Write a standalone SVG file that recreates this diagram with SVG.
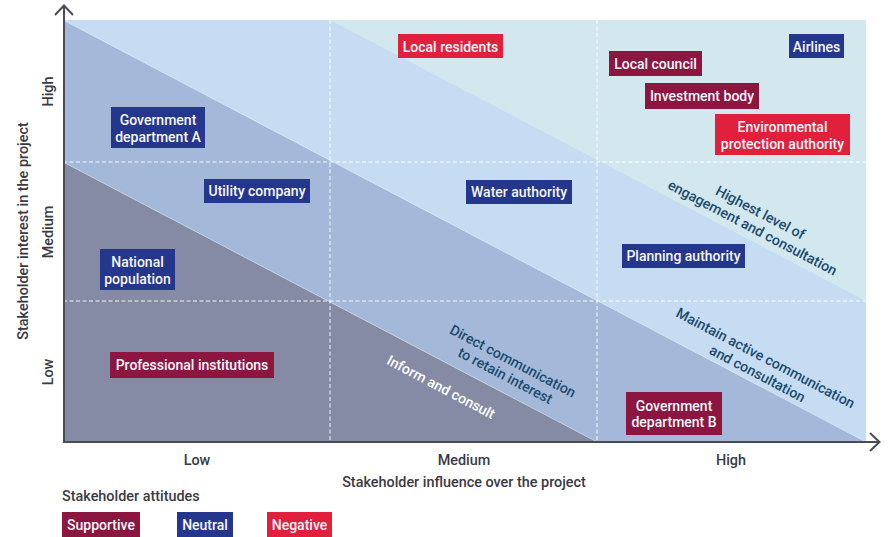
<svg xmlns="http://www.w3.org/2000/svg" width="890" height="537" viewBox="0 0 890 537">
<defs>
<style>
.bs{fill:#8c1640}
.bn{fill:#25378c}
.bg{fill:#e0203d}
.lbl{font-family:Roboto,"Liberation Sans",sans-serif;font-size:14px;font-weight:500;fill:#f7f7fb;text-anchor:middle}
.ax{font-family:Roboto,"Liberation Sans",sans-serif;font-size:14.4px;font-weight:500;fill:#3a3a44}
.axm{text-anchor:middle}
.dg{font-family:Roboto,"Liberation Sans",sans-serif;font-size:14.2px;font-weight:500;fill:#1e4a6e;text-anchor:middle}
.grid{stroke:#ffffff;stroke-width:1;stroke-dasharray:4 2.5;fill:none;opacity:0.9}
.axis{stroke:#4b4b57;stroke-width:2;fill:none}
.edge{stroke:#ffffff;stroke-width:0.8;opacity:0.45;fill:none}
</style>
</defs>
<g id="background">
<rect x="63" y="20" width="803" height="422" fill="#d2e8ee"/>
<polygon points="63,20 330,20 866,301 866,442" fill="#c5dcf2"/>
<polygon points="63,20 866,442 597,442 63,162" fill="#a4b9d9"/>
<polygon points="63,162 597,442 63,442" fill="#868ba5"/>
<line class="edge" x1="63" y1="20" x2="866" y2="442"/>
<line class="edge" x1="63" y1="162" x2="597" y2="442"/>
</g>
<g id="grid">
<line class="grid" x1="330" y1="20" x2="330" y2="442"/>
<line class="grid" x1="597" y1="20" x2="597" y2="442"/>
<line class="grid" x1="63" y1="162" x2="866" y2="162"/>
<line class="grid" x1="63" y1="301" x2="866" y2="301"/>
</g>
<g id="connectors">
<path class="axis" d="M64 442 V6 M55 15 L64 5.5 L73 15"/>
<path class="axis" d="M63 442 H879 M870 433 L879.5 442 L870 451"/>
</g>
<g id="zone-labels">
<text class="dg" transform="translate(756.5,220) rotate(27.7)"><tspan x="0" y="-3.5">Highest level of</tspan><tspan x="0" y="13.5">engagement and consultation</tspan></text>
<text class="dg" transform="translate(761.5,366) rotate(27.7)"><tspan x="0" y="-4">Maintain active communication</tspan><tspan x="0" y="13.5">and consultation</tspan></text>
<text class="dg" transform="translate(509,368.5) rotate(27.7)"><tspan x="0" y="-3.5">Direct communication</tspan><tspan x="0" y="13">to retain interest</tspan></text>
<text class="dg" transform="translate(441,387) rotate(27.7)" style="fill:#ffffff"><tspan x="0" y="5">Inform and consult</tspan></text>
</g>
<g id="local-residents"><rect class="bg" x="398" y="34" width="105" height="24"/><text class="lbl" x="450.5" y="51.5">Local residents</text></g>
<g id="local-council"><rect class="bs" x="609" y="51" width="93" height="25"/><text class="lbl" x="655.5" y="68.5">Local council</text></g>
<g id="airlines"><rect class="bn" x="789" y="34" width="55" height="24"/><text class="lbl" x="816.5" y="51.5">Airlines</text></g>
<g id="investment-body"><rect class="bs" x="645" y="83" width="114" height="26"/><text class="lbl" x="702" y="101">Investment body</text></g>
<g id="environmental-protection-authority"><rect class="bg" x="715" y="114" width="135" height="41"/><text class="lbl" x="782.5" y="131.5">Environmental<tspan x="782.5" y="148.5">protection authority</tspan></text></g>
<g id="government-department-a"><rect class="bn" x="111" y="107" width="94" height="41"/><text class="lbl" x="158" y="124.5">Government<tspan x="158" y="141.5">department A</tspan></text></g>
<g id="utility-company"><rect class="bn" x="204" y="179" width="106" height="24"/><text class="lbl" x="257" y="196">Utility company</text></g>
<g id="water-authority"><rect class="bn" x="466" y="180" width="106" height="24"/><text class="lbl" x="519" y="197">Water authority</text></g>
<g id="national-population"><rect class="bn" x="100" y="249" width="75" height="41"/><text class="lbl" x="137.5" y="266.5">National<tspan x="137.5" y="283.5">population</tspan></text></g>
<g id="planning-authority"><rect class="bn" x="622" y="244" width="123" height="24"/><text class="lbl" x="683.5" y="261">Planning authority</text></g>
<g id="professional-institutions"><rect class="bs" x="110" y="352" width="164" height="26"/><text class="lbl" x="192" y="370">Professional institutions</text></g>
<g id="government-department-b"><rect class="bs" x="626" y="392" width="96" height="43"/><text class="lbl" x="674" y="410.5">Government<tspan x="674" y="427">department B</tspan></text></g>
<g id="axis-labels">
<text class="ax axm" transform="translate(52.5,91.5) rotate(-90)" y="0">High</text>
<text class="ax axm" transform="translate(52.5,232) rotate(-90)" y="0">Medium</text>
<text class="ax axm" transform="translate(52.5,372) rotate(-90)" y="0">Low</text>
<text class="ax axm" transform="translate(27.5,231) rotate(-90)" y="0">Stakeholder interest in the project</text>
<text class="ax axm" x="197" y="465">Low</text>
<text class="ax axm" x="464" y="465">Medium</text>
<text class="ax axm" x="731" y="465">High</text>
<text class="ax axm" x="464" y="486.5">Stakeholder influence over the project</text>
</g>
<g id="legend">
<text class="ax" x="62" y="501">Stakeholder attitudes</text>
<g id="legend-supportive"><rect class="bs" x="62" y="512" width="78" height="25"/><text class="lbl" x="101" y="530">Supportive</text></g>
<g id="legend-neutral"><rect class="bn" x="177" y="512" width="56" height="25"/><text class="lbl" x="205" y="530">Neutral</text></g>
<g id="legend-negative"><rect class="bg" x="267" y="512" width="65" height="25"/><text class="lbl" x="299.5" y="530">Negative</text></g>
</g>
</svg>
